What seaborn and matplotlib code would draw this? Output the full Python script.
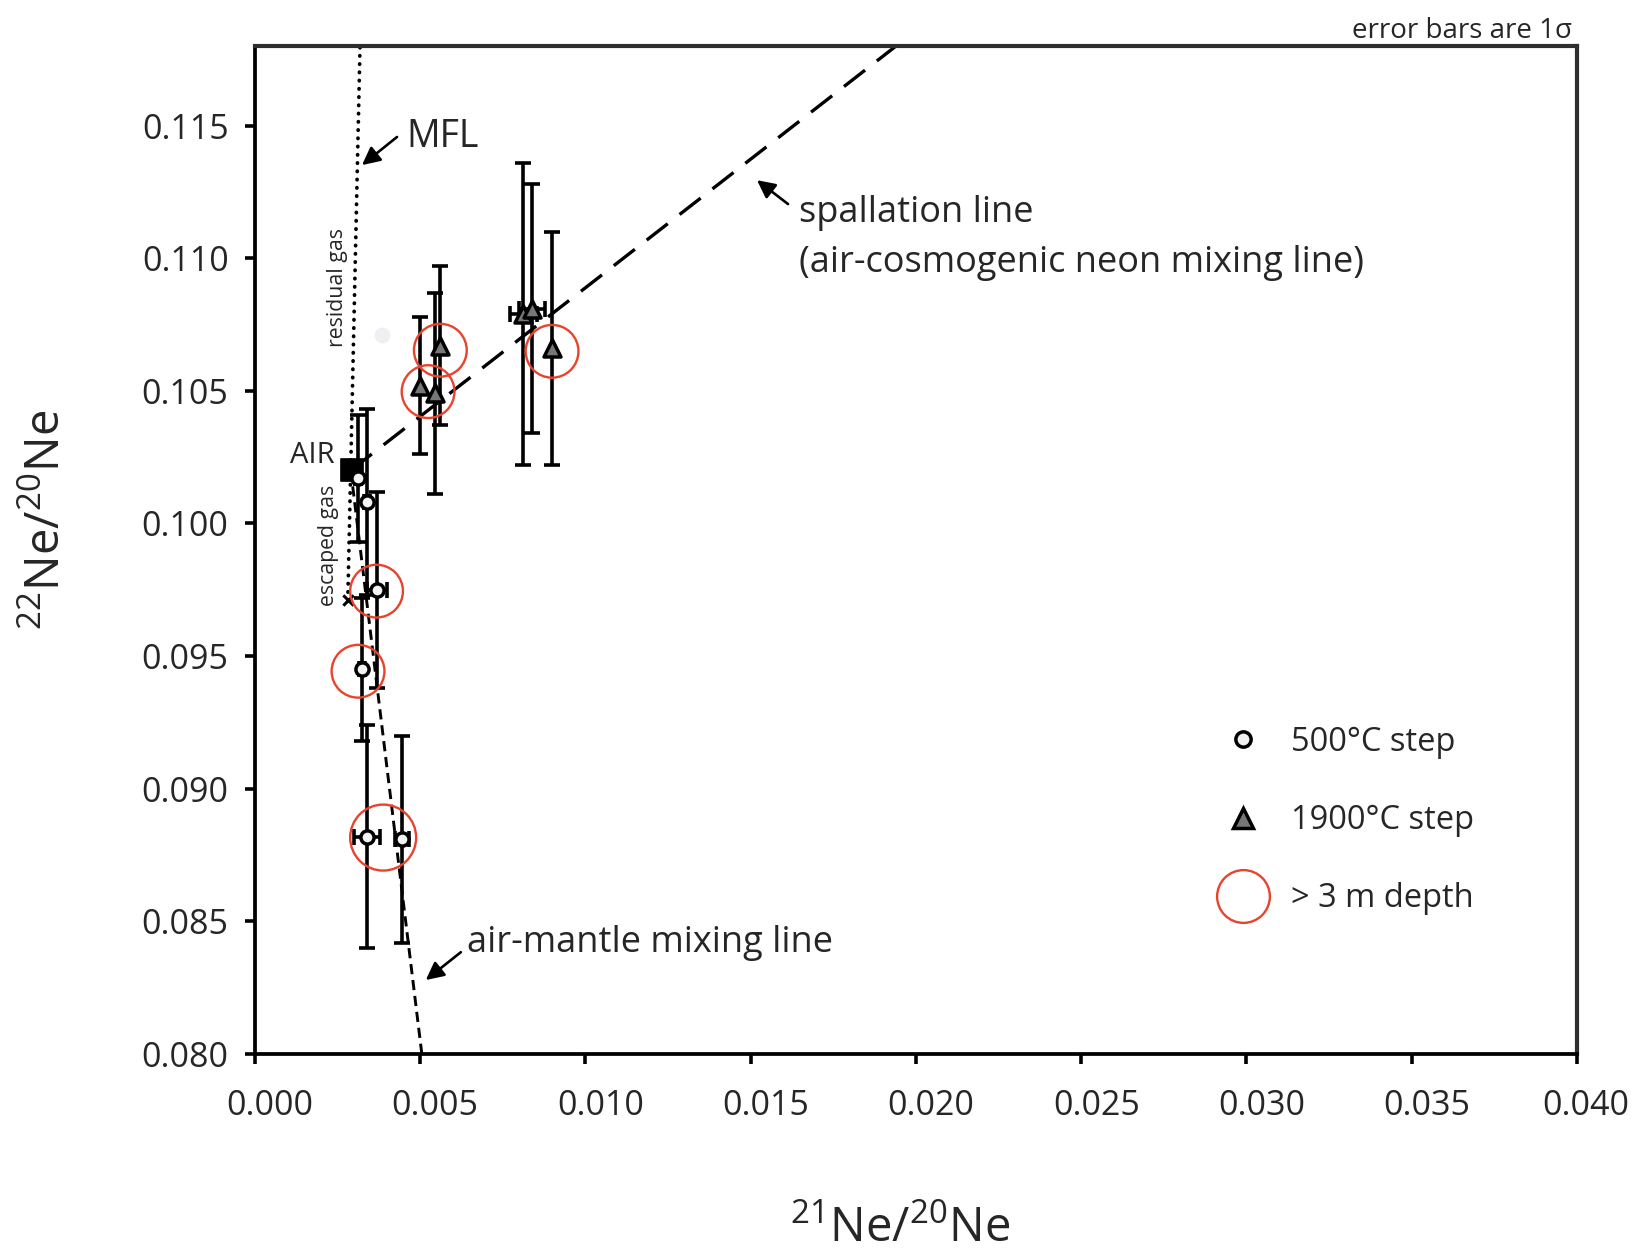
import numpy as np
import matplotlib
matplotlib.use("Agg")
import matplotlib.pyplot as plt
import matplotlib.transforms as mtransforms
from matplotlib.lines import Line2D
import seaborn as sns

# 500 C step (x = 21Ne/20Ne, y = 22Ne/20Ne, 1 sigma errors)
circ_x = [0.00312, 0.00339, 0.00369, 0.00324, 0.00339, 0.00445]
circ_y = [0.1017, 0.1008, 0.0975, 0.0945, 0.0882, 0.0881]
circ_xerr = [0.0001, 0.0001, 0.0003, 0.0001, 0.0004, 0.0002]
circ_yerr = [0.0024, 0.0035, 0.0037, 0.0027, 0.0042, 0.0039]

# 1900 C step
tri_x = [0.00561, 0.00500, 0.00545, 0.00812, 0.00839, 0.00898]
tri_y = [0.1067, 0.1052, 0.1049, 0.1079, 0.1081, 0.1066]
tri_xerr = [0.0, 0.0, 0.0, 0.0004, 0.0004, 0.0]
tri_yerr = [0.0030, 0.0026, 0.0038, 0.0057, 0.0047, 0.0044]

# samples from > 3 m depth (red rings)
deep_x = [0.00561, 0.00524, 0.00899, 0.00368, 0.00312, 0.00388]
deep_y = [0.10653, 0.10497, 0.10649, 0.09745, 0.09443, 0.08816]

air_x, air_y = [0.00293], [0.1020]
escaped_x, escaped_y = [0.00281], [0.0971]
faint_x, faint_y = [0.00384], [0.1071]

mfl_x, mfl_y = [0.00281, 0.00318], [0.0971, 0.1180]
spall_x, spall_y = [0.0029, 0.0194], [0.1020, 0.1180]
mantle_x, mantle_y = [0.0029, 0.00505], [0.1020, 0.0800]

x_ticks = np.arange(0, 0.0401, 0.005)
y_ticks = np.arange(0.080, 0.1151, 0.005)

sns.set_style("ticks")
plt.rcParams['font.family'] = ['Open Sans', 'DejaVu Sans']
plt.rcParams['mathtext.fontset'] = 'custom'
plt.rcParams['mathtext.rm'] = 'Open Sans'
plt.rcParams['mathtext.it'] = 'Open Sans'
plt.rcParams['mathtext.bf'] = 'Open Sans'

fig = plt.figure(figsize=(16.32, 12.52), dpi=100)
ax = fig.add_axes([0.1562, 0.1581, 0.8101, 0.8052])

RED = '#e8432d'

# reference lines
ax.plot(spall_x, spall_y, color='black', lw=2.4, dashes=(8, 4.5), zorder=1)
ax.plot(mantle_x, mantle_y, color='black', lw=2.1, dashes=(3.5, 2), zorder=1)
ax.plot(mfl_x, mfl_y, color='black', lw=2.7, linestyle=(0, (0.1, 2.1)),
        dash_capstyle='round', zorder=1)

# error bars
err_kw = dict(fmt='none', ecolor='black', elinewidth=2.6, capsize=6, capthick=2.6, zorder=2)
ax.errorbar(circ_x, circ_y, xerr=circ_xerr, yerr=circ_yerr, **err_kw)
ax.errorbar(tri_x, tri_y, xerr=tri_xerr, yerr=tri_yerr, **err_kw)

# points
sns.scatterplot(x=faint_x, y=faint_y, marker='o', s=130, color='#eef0f3', linewidth=0, ax=ax, zorder=3)
sns.scatterplot(x=air_x, y=air_y, marker='s', s=230, color='black', edgecolor='black', ax=ax, zorder=3)
sns.scatterplot(x=escaped_x, y=escaped_y, marker='x', s=55, color='black', linewidth=2.2, ax=ax, zorder=3)
sns.scatterplot(x=circ_x, y=circ_y, marker='o', s=90, color='#f2f3f5', edgecolor='black',
                linewidth=2.5, ax=ax, zorder=4)
sns.scatterplot(x=tri_x, y=tri_y, marker='^', s=150, color='#777777', edgecolor='black',
                linewidth=2.5, ax=ax, zorder=4)
ring_s = [1444, 1444, 1444, 1444, 1444, 2256]
ax.scatter(deep_x, deep_y, s=ring_s, facecolors='none', edgecolors=RED, linewidths=1.7, zorder=5)

ax.set_xlim(0, 0.040)
ax.set_ylim(0.080, 0.118)
ax.set_xticks(x_ticks)
ax.set_yticks(y_ticks)
ax.xaxis.set_major_formatter(plt.FuncFormatter(lambda v, p: f"{v:.3f}"))
ax.yaxis.set_major_formatter(plt.FuncFormatter(lambda v, p: f"{v:.3f}"))
ax.tick_params(axis='both', labelsize=24.5, width=2.6, length=7, color='black')
ax.tick_params(axis='y', pad=12)
ax.tick_params(axis='x', pad=18)
# x tick labels sit a little right of their ticks in the original
xlabels = ax.get_xticklabels()
for i, lab in enumerate(xlabels):
    dx = 0.09 if i == len(xlabels) - 1 else 0.15
    lab.set_transform(lab.get_transform() + mtransforms.ScaledTranslation(dx, 0, fig.dpi_scale_trans))

for side in ['left', 'bottom']:
    ax.spines[side].set_linewidth(2.7)
    ax.spines[side].set_color('black')
for side in ['top', 'right']:
    ax.spines[side].set_visible(True)
    ax.spines[side].set_linewidth(3.0)
    ax.spines[side].set_color('#2e2e2e')

ax.set_xlabel(r'$^{21}$Ne/$^{20}$Ne', fontsize=34)
ax.set_ylabel(r'$^{22}$Ne/$^{20}$Ne', fontsize=34)
ax.xaxis.set_label_coords(0.488, -0.150)
ax.yaxis.set_label_coords(-0.139, 0.530)

# annotations
arrow = dict(arrowstyle='-|>', color='black', lw=1.9, mutation_scale=27, shrinkA=0, shrinkB=0)
ax.text(0.00457, 0.11419, 'MFL', fontsize=27, va='baseline', ha='left')
ax.annotate('', xy=(0.00324, 0.11351), xytext=(0.00430, 0.11457), arrowprops=arrow)
ax.text(0.01646, 0.11136, 'spallation line', fontsize=26, va='baseline', ha='left')
ax.text(0.01646, 0.10948, '(air-cosmogenic neon mixing line)', fontsize=26, va='baseline', ha='left')
ax.annotate('', xy=(0.01519, 0.11294), xytext=(0.01613, 0.11204), arrowprops=arrow)
ax.text(0.00641, 0.08384, 'air-mantle mixing line', fontsize=26, va='baseline', ha='left')
ax.annotate('', xy=(0.00517, 0.08279), xytext=(0.00623, 0.08384), arrowprops=arrow)
ax.text(0.00242, 0.10258, 'AIR', fontsize=21, va='center', ha='right')
ax.text(0.00251, 0.10891, 'residual gas', fontsize=15.3, rotation=90, va='center', ha='center')
ax.text(0.00224, 0.09919, 'escaped gas', fontsize=15.3, rotation=90, va='center', ha='center')
fig.text(0.9632, 0.9755, 'error bars are 1σ', fontsize=20, ha='right', va='center')

handles = [
    Line2D([], [], ls='none', marker='o', ms=11, mfc='#f2f3f5', mec='black', mew=2.5),
    Line2D([], [], ls='none', marker='^', ms=14, mfc='#777777', mec='black', mew=2.5),
    Line2D([], [], ls='none', marker='o', ms=38, mfc='none', mec=RED, mew=1.7),
]
ax.legend(handles, ['500°C step', '1900°C step', '> 3 m depth'], loc='upper left',
          bbox_to_anchor=(0.729, 0.3255), frameon=False, fontsize=23.5, handlelength=1.5,
          handletextpad=0.72, labelspacing=1.38, borderpad=0, borderaxespad=0)

fig.savefig('out.png', dpi=100)
